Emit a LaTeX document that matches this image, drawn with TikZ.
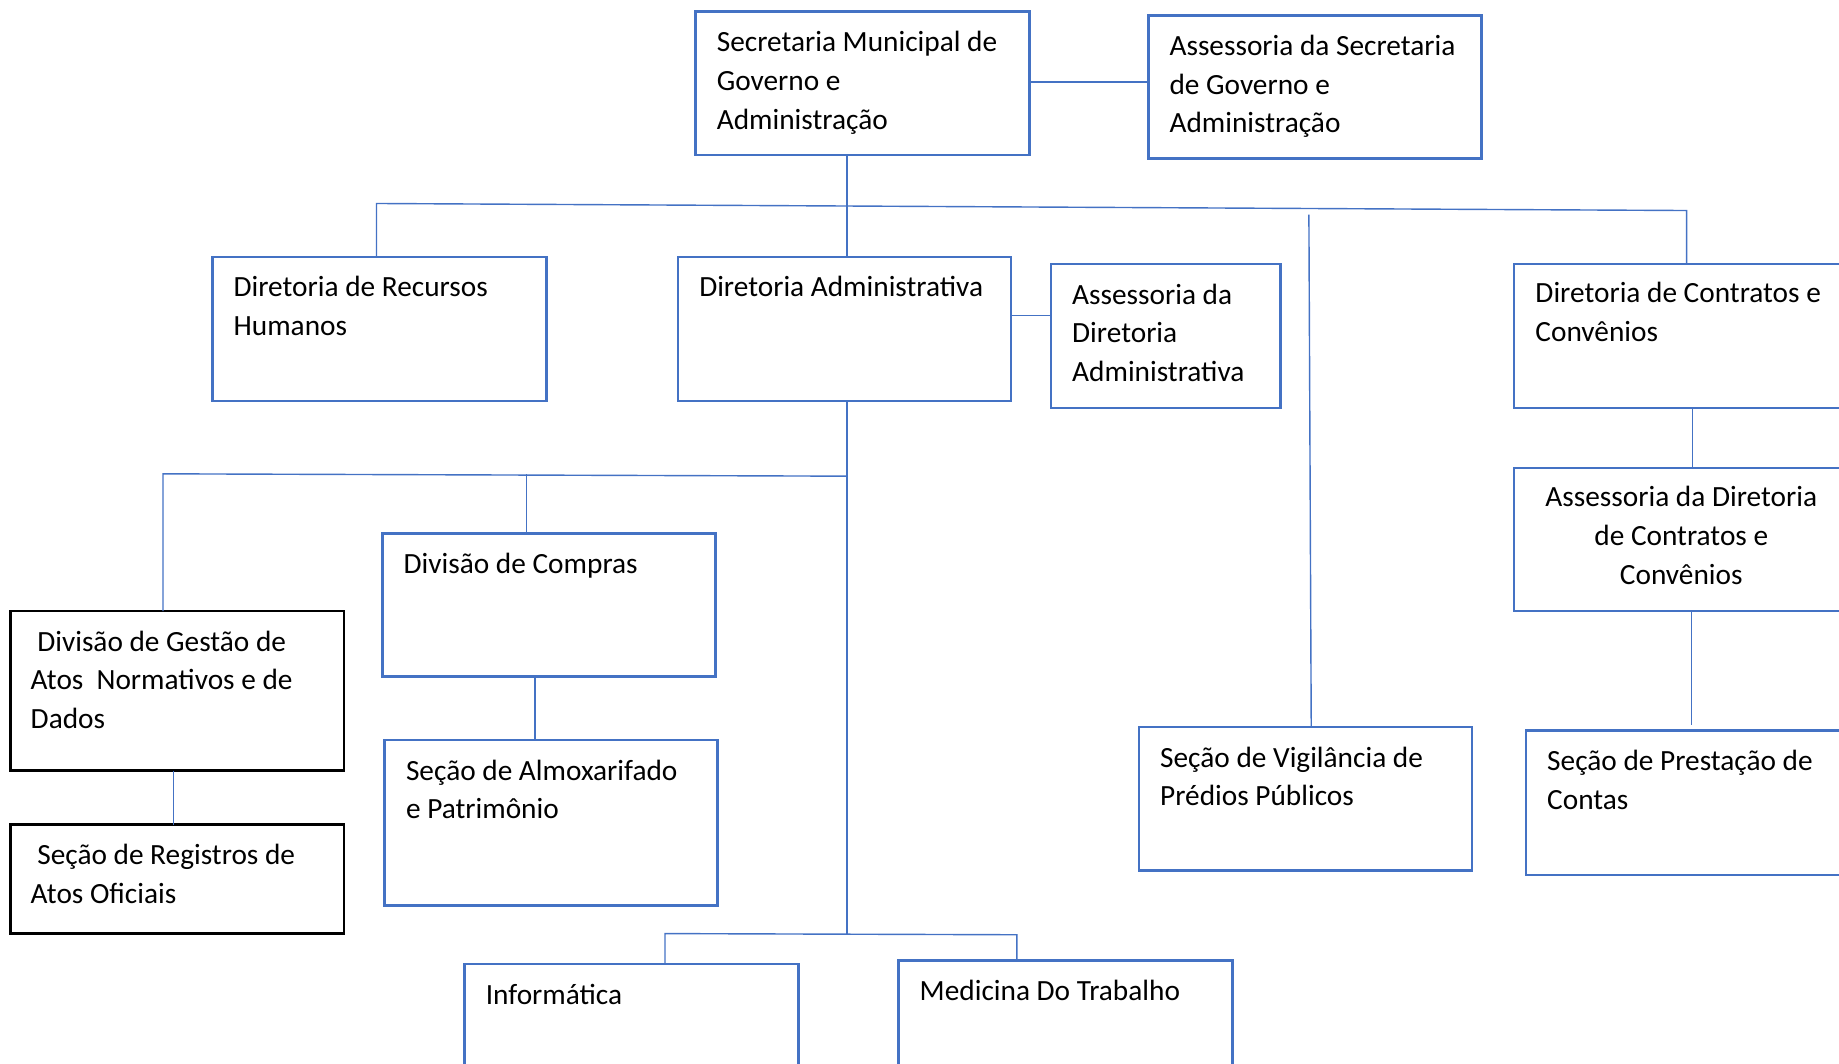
\documentclass[tikz,border=0pt]{standalone}
\usepackage{fontspec}
\setmainfont{Carlito}
\usetikzlibrary{calc}
\definecolor{obl}{HTML}{4472C4}
\newcommand\fl{\rule{0pt}{25pt}}
\begin{document}
\begin{tikzpicture}[x=1pt,y=-1pt,
  box/.style={draw=obl, line width=2.2pt, rectangle, inner sep=0pt, outer sep=0pt, anchor=north west},
  bbox/.style={box, draw=black, line width=1.9pt},
  txt/.style={anchor=north west, inner sep=0pt, align=left, font=\fontsize{25}{33}\selectfont},
  ctxt/.style={anchor=north, inner sep=0pt, align=center, font=\fontsize{25}{33}\selectfont},
  conn/.style={draw=obl, line width=1.2pt}]
\path[use as bounding box, clip] (0,0) rectangle (1568,907);

% boxes
\node[box, minimum width=285, minimum height=122] (sec) at (593,10) {};
\node[box, minimum width=284, minimum height=122] (asec) at (979,13) {};
\node[box, minimum width=285, minimum height=123] (drh) at (181,219) {};
\node[box, minimum width=284, minimum height=123] (dadm) at (578,219) {};
\node[box, minimum width=196, minimum height=123] (adadm) at (896,225) {};
\node[box, minimum width=285, minimum height=123] (dcc) at (1291,225) {};
\node[box, minimum width=285, minimum height=122] (adcc) at (1291,399) {};
\node[box, minimum width=285, minimum height=123] (spc) at (1301,623) {};
\node[box, minimum width=284, minimum height=122] (svig) at (971,620) {};
\node[box, minimum width=284, minimum height=122] (dcomp) at (326,455) {};
\node[box, minimum width=284, minimum height=141] (salm) at (328,631) {};
\node[bbox, minimum width=284, minimum height=136] (dgest) at (9,521) {};
\node[bbox, minimum width=284, minimum height=93] (sreg) at (9,703) {};
\node[box, minimum width=285, minimum height=122] (inf) at (396,822) {};
\node[box, minimum width=285, minimum height=122] (med) at (766,819) {};

% texts
\node[txt] (sec-t) at ($(sec.north west)+(18,9)$) {\fl Secretaria Municipal de\\Governo e\\Administração};
\node[txt] (asec-t) at ($(asec.north west)+(18,9)$) {\fl Assessoria da Secretaria\\de Governo e\\Administração};
\node[txt] (drh-t) at ($(drh.north west)+(18,9)$) {\fl Diretoria de Recursos\\Humanos};
\node[txt] (dadm-t) at ($(dadm.north west)+(18,9)$) {\fl Diretoria Administrativa};
\node[txt] (adadm-t) at ($(adadm.north west)+(18,9)$) {\fl Assessoria da\\Diretoria\\Administrativa};
\node[txt] (dcc-t) at ($(dcc.north west)+(18,8)$) {\fl Diretoria de Contratos e\\Convênios};
\node[ctxt] (adcc-t) at ($(adcc.north)+(0,8)$) {\fl Assessoria da Diretoria\\de Contratos e\\Convênios};
\node[txt] (spc-t) at ($(spc.north west)+(18,9)$) {\fl Seção de Prestação de\\Contas};
\node[txt] (svig-t) at ($(svig.north west)+(18,9)$) {\fl Seção de Vigilância de\\Prédios Públicos};
\node[txt] (dcomp-t) at ($(dcomp.north west)+(18,9)$) {\fl Divisão de Compras};
\node[txt] (salm-t) at ($(salm.north west)+(18,9)$) {\fl Seção de Almoxarifado\\e Patrimônio};
\node[txt] (dgest-t) at ($(dgest.north west)+(17,9)$) {\fl\hspace*{5.6pt}Divisão de Gestão de\\Atos\hspace*{5.6pt} Normativos e de\\Dados};
\node[txt] (sreg-t) at ($(sreg.north west)+(17,9)$) {\fl\hspace*{5.6pt}Seção de Registros de\\Atos Oficiais};
\node[txt] (inf-t) at ($(inf.north west)+(18,9)$) {\fl Informática};
\node[txt] (med-t) at ($(med.north west)+(18,9)$) {\fl Medicina Do Trabalho};

% connectors
\coordinate (hl) at (321,173.5);
\coordinate (hr) at (1438,179.5);
\coordinate (vt) at (1116,183);
\coordinate (mL) at (139,404);
\coordinate (mA) at (723,406);
\coordinate (mC) at (449,404.5);
\coordinate (mB) at (722,796);
\coordinate (bL) at (567,796);
\coordinate (bR) at (867,797);
\coordinate (pe) at (1442,618);

\draw[conn] (sec.east |- 0,70) -- (asec.west |- 0,70);
\draw[conn] (sec.south -| 722,0) -- (dadm.north -| 722,0);
\draw[conn] (drh.north -| 321,0) -- (hl) -- (hr) -- (dcc.north -| 1438,0);
\draw[conn] (vt) -- (svig.north -| 1118,0);
\draw[conn] (dadm.east |- 0,269) -- (adadm.west |- 0,269);
\draw[conn] (dadm.south -| 722,0) -- (mB);
\draw[conn] (dgest.north -| 139,0) -- (mL) -- (mA);
\draw[conn] (mC) -- (dcomp.north -| 449,0);
\draw[conn] (dcomp.south -| 456,0) -- (salm.north -| 456,0);
\draw[conn] (dgest.south -| 148,0) -- (sreg.north -| 148,0);
\draw[conn] (dcc.south -| 1443,0) -- (adcc.north -| 1443,0);
\draw[conn] (adcc.south -| 1442,0) -- (pe);
\draw[conn] (inf.north -| 567,0) -- (bL) -- (bR) -- (med.north -| 867,0);
\end{tikzpicture}
\end{document}
